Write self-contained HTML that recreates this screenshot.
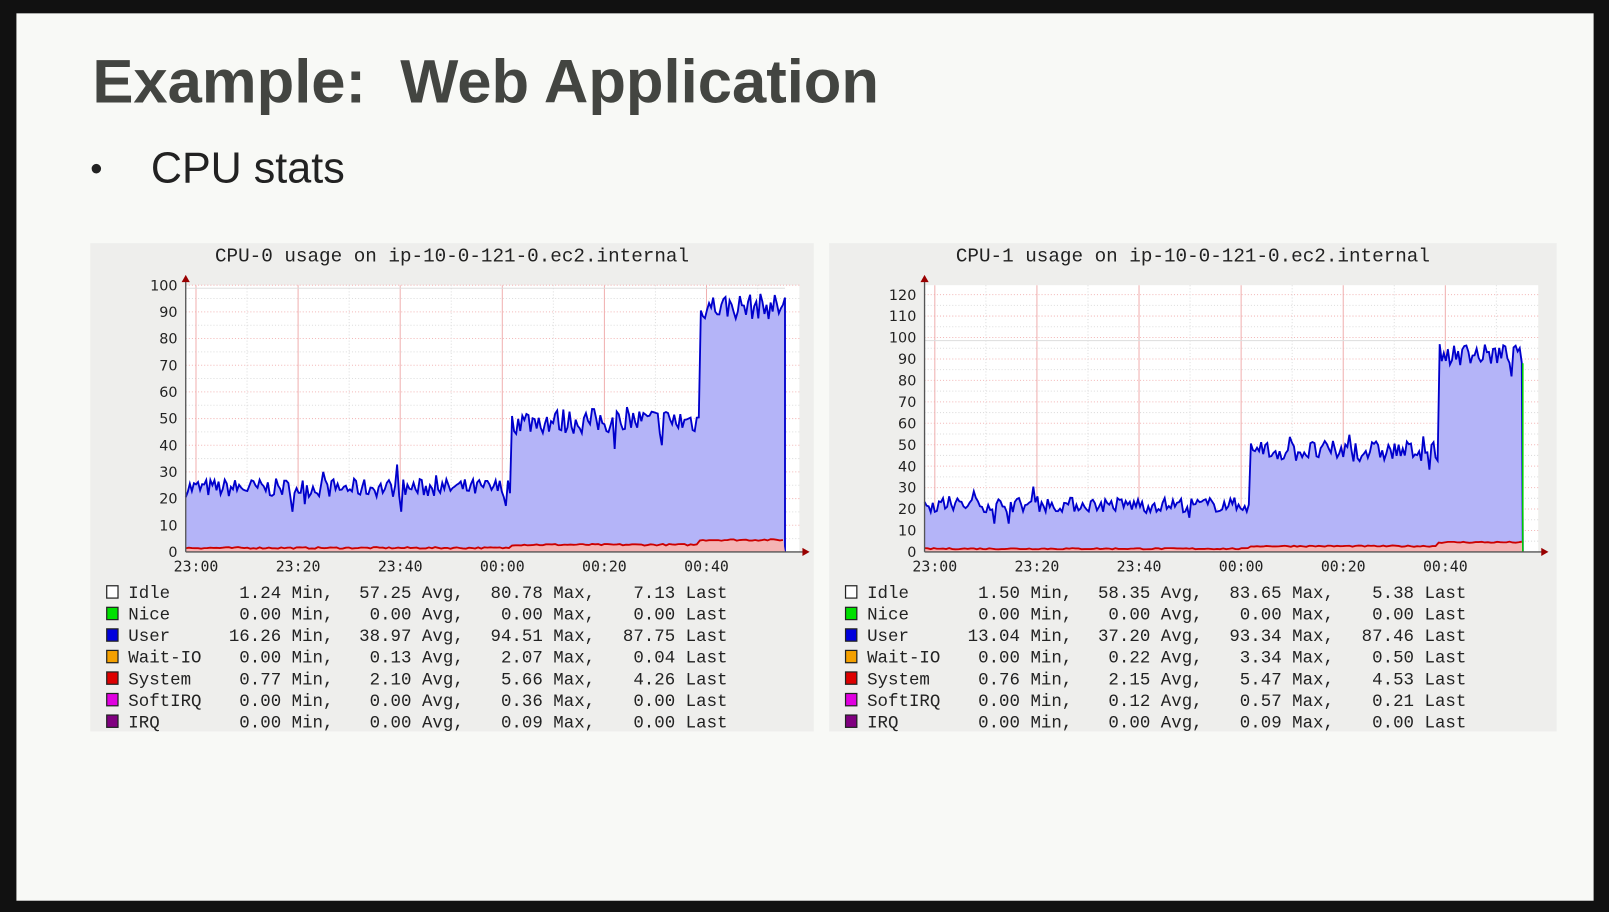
<!DOCTYPE html>
<html><head><meta charset="utf-8"><style>
html,body{margin:0;padding:0;background:#000;}
svg{display:block}
</style></head><body>
<svg id="s" width="1609" height="912" viewBox="0 0 1568 889" preserveAspectRatio="none" xmlns="http://www.w3.org/2000/svg">
<rect x="0" y="0" width="1568" height="889" fill="#111"/>
<rect x="16" y="13" width="1537" height="865" fill="#f8f9f6"/>
<text x="90" y="100" xml:space="preserve" font-family="Liberation Sans, sans-serif" font-weight="bold" font-size="60" fill="#434541">Example:  Web Application</text>
<text x="88" y="176" font-family="Liberation Sans, sans-serif" font-size="34" fill="#222">•</text>
<text x="147" y="178" font-family="Liberation Sans, sans-serif" font-size="42" fill="#222">CPU stats</text>
<g id="charts"></g>
</svg>
<script>
var NS="http://www.w3.org/2000/svg";
var root=document.getElementById('charts');
function el(t,a,txt){var e=document.createElementNS(NS,t);for(var k in a)e.setAttribute(k,a[k]);if(txt!=null)e.textContent=txt;root.appendChild(e);return e;}
var seed=7;function rnd(){seed=(seed*16807)%2147483647;return seed/2147483647;}
function chart(o){
 var px=o.px,pw=o.pw;
 el('rect',{x:o.bx,y:237,width:o.bw,height:476,fill:'#eeeeec'});
 el('text',{x:o.bx+o.bw/2,y:255,'text-anchor':'middle','font-family':'Liberation Mono, monospace','font-size':18.8,fill:'#222'},o.title);
 var y0=538,s=o.scale,top=o.top;
 el('rect',{x:px,y:top,width:pw,height:y0-top,fill:'#fff'});
 for(var v=5;;v+=5){var y=y0-v*s;if(y<top)break;el('line',{x1:px,y1:y,x2:px+pw,y2:y,stroke:v%10?'#ddd':'#f3b8b8','stroke-width':1,'stroke-dasharray':'1,2'});}
 for(var i=0;i<13;i++){var x=o.t0+i*49.75;if(x>px+pw)break;el('line',{x1:x,y1:top,x2:x,y2:y0,stroke:i%2?'#ddd':'#f0b0b0','stroke-width':1,'stroke-dasharray':i%2?'1,2':'none'});}
 el('line',{x1:px,y1:y0-100*s+3,x2:o.end,y2:y0-100*s+3,stroke:'#ddd','stroke-width':1});
 var pts=[],x=px;
 while(x<=o.end){var b=x<o.s1?o.v0:(x<o.s2?o.v1:o.v2);var v=b+(rnd()-0.5)*o.n*(x<o.s1?1:1.4);if(rnd()<0.04)v+=(rnd()<0.5?6:-6);pts.push([x,y0-v*s]);x+=2;}
 var d='M'+px+','+y0;pts.forEach(function(p){d+=' L'+p[0]+','+p[1].toFixed(1);});d+=' L'+o.end+','+y0+'Z';
 el('path',{d:d,fill:'#b4b4f8'});
 var l='';pts.forEach(function(p,i){l+=(i?' L':'M')+p[0]+','+p[1].toFixed(1);});
 el('path',{d:l+' L'+o.end+','+y0,fill:'none',stroke:'#0000cc','stroke-width':1.8});
 var sd='M'+px+','+y0,sl='';x=px;
 while(x<=o.end){var v=(x<o.s1?1.2:(x<o.s2?2.4:4.2))+rnd()*0.6;var y=(y0-v*s).toFixed(1);sd+=' L'+x+','+y;sl+=(sl?' L':'M')+x+','+y;x+=3;}
 sd+=' L'+o.end+','+y0+'Z';
 el('path',{d:sd,fill:'#f4b4b4'});el('path',{d:sl,fill:'none',stroke:'#cc0000','stroke-width':1.8});
 if(o.green)el('line',{x1:o.end,y1:y0-88*s,x2:o.end,y2:y0,stroke:'#00cc00','stroke-width':1.5});
 el('line',{x1:px,y1:y0,x2:px+pw+6,y2:y0,stroke:'#555','stroke-width':1.3});
 el('line',{x1:px,y1:y0,x2:px,y2:top-6,stroke:'#555','stroke-width':1.3});
 el('path',{d:'M'+(px+pw+3)+','+(y0-4)+' L'+(px+pw+10)+','+y0+' L'+(px+pw+3)+','+(y0+4)+'Z',fill:'#900'});
 el('path',{d:'M'+(px-4)+','+(top-3)+' L'+px+','+(top-10)+' L'+(px+4)+','+(top-3)+'Z',fill:'#900'});
 for(var v=0;v<=o.max;v+=10){el('text',{x:px-8,y:y0-v*s+5,'text-anchor':'end','font-family':'DejaVu Sans, sans-serif','font-size':14,fill:'#222'},String(v));}
 var tl=['23:00','23:20','23:40','00:00','00:20','00:40'];
 tl.forEach(function(t,i){el('text',{x:o.t0+i*99.5,y:557,'text-anchor':'middle','font-family':'DejaVu Sans Mono, monospace','font-size':14.5,fill:'#222'},t);});
 var cols=['#fff','#00e000','#0000dd','#f4a000','#dd0000','#e000e0','#800080'];
 var names=['Idle','Nice','User','Wait-IO','System','SoftIRQ','IRQ'];
 o.rows.forEach(function(r,i){var y=582+i*21;
  el('rect',{x:o.bx+16,y:y-11,width:11,height:12,fill:cols[i],stroke:'#222','stroke-width':1.2});
  el('text',{x:o.bx+37,y:y+1,'font-family':'Liberation Mono, monospace','font-size':17,fill:'#222'},names[i]);
  var ends=[237,364,492,621],sfx=[' Min,',' Avg,',' Max,',' Last'];
  r.forEach(function(val,j){el('text',{x:o.bx+ends[j],y:y+1,'text-anchor':'end','font-family':'Liberation Mono, monospace','font-size':17,fill:'#222'},val+sfx[j]);});
 });
}
chart({bx:88,bw:705,title:'CPU-0 usage on ip-10-0-121-0.ec2.internal',px:181,pw:598,top:278,scale:2.6,max:100,t0:191,end:765,s1:498,s2:682,v0:24,v1:49,v2:92,n:7,
 rows:[['1.24','57.25','80.78','7.13'],['0.00','0.00','0.00','0.00'],['16.26','38.97','94.51','87.75'],['0.00','0.13','2.07','0.04'],['0.77','2.10','5.66','4.26'],['0.00','0.00','0.36','0.00'],['0.00','0.00','0.09','0.00']]});
chart({bx:808,bw:709,title:'CPU-1 usage on ip-10-0-121-0.ec2.internal',px:901,pw:598,top:278,scale:2.09,max:120,t0:911,end:1484,s1:1218,s2:1402,v0:22,v1:47,v2:92,n:7,green:true,
 rows:[['1.50','58.35','83.65','5.38'],['0.00','0.00','0.00','0.00'],['13.04','37.20','93.34','87.46'],['0.00','0.22','3.34','0.50'],['0.76','2.15','5.47','4.53'],['0.00','0.12','0.57','0.21'],['0.00','0.00','0.09','0.00']]});
</script>
</body></html>
